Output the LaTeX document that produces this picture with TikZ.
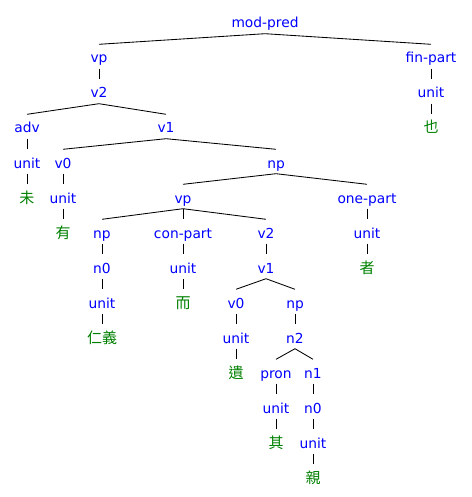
\documentclass[tikz,border=0pt]{standalone}
\usepackage{fontspec}
\setmainfont{DejaVu Sans}
\newfontfamily\cjk{Noto Sans CJK TC}
\definecolor{lbl}{RGB}{0,0,255}
\definecolor{wrd}{RGB}{0,128,0}
\begin{document}
\begin{tikzpicture}[x=1pt,y=-1pt,
  cat/.style={text=lbl, font=\fontsize{13.8}{16}\selectfont, inner sep=0pt,
    text height=18.5pt, text depth=5.5pt, anchor=base},
  word/.style={cat, text=wrd, font=\cjk\fontsize{15}{16}\selectfont},
  edge/.style={draw=black, line width=0.85pt}]
\useasboundingbox (0,0) rectangle (471,497);
\def\L#1{28+35*#1}
\node[cat] (mp) at (265,{\L0}) {mod-pred};
\node[cat] (vpA) at (99,{\L1}) {vp};
\node[cat] (fp) at (431,{\L1}) {fin-part};
\node[cat] (v2A) at (99,{\L2}) {v2};
\node[cat] (unitFP) at (431,{\L2}) {unit};
\node[cat] (adv) at (27,{\L3}) {adv};
\node[cat] (v1A) at (166,{\L3}) {v1};
\node[word] (ye) at (431,{\L3}) {也};
\node[cat] (unitAdv) at (27,{\L4}) {unit};
\node[cat] (v0A) at (63,{\L4}) {v0};
\node[cat] (npA) at (276,{\L4}) {np};
\node[word] (wei) at (27,{\L5}) {未};
\node[cat] (unitV0) at (63,{\L5}) {unit};
\node[cat] (vpB) at (183,{\L5}) {vp};
\node[cat] (op) at (367,{\L5}) {one-part};
\node[word] (you) at (63,{\L6}) {有};
\node[cat] (npB) at (102,{\L6}) {np};
\node[cat] (cp) at (183,{\L6}) {con-part};
\node[cat] (v2B) at (266,{\L6}) {v2};
\node[cat] (unitOP) at (367,{\L6}) {unit};
\node[cat] (n0A) at (102,{\L7}) {n0};
\node[cat] (unitCP) at (183,{\L7}) {unit};
\node[cat] (v1B) at (266,{\L7}) {v1};
\node[word] (zhe) at (367,{\L7}) {者};
\node[cat] (unitN0) at (102,{\L8}) {unit};
\node[word] (er) at (183,{\L8}) {而};
\node[cat] (v0B) at (236,{\L8}) {v0};
\node[cat] (npC) at (295,{\L8}) {np};
\node[word] (renyi) at (102,{\L9}) {仁義};
\node[cat] (unitV0B) at (236,{\L9}) {unit};
\node[cat] (n2) at (295,{\L9}) {n2};
\node[word] (yi) at (236,{\L10}) {遺};
\node[cat] (pron) at (276,{\L10}) {pron};
\node[cat] (n1) at (313,{\L10}) {n1};
\node[cat] (unitPron) at (276,{\L11}) {unit};
\node[cat] (n0B) at (313,{\L11}) {n0};
\node[word] (qi) at (276,{\L12}) {其};
\node[cat] (unitN0B) at (313,{\L12}) {unit};
\node[word] (qin) at (313,{\L13}) {親};
\foreach \a/\b in {mp/vpA, mp/fp, vpA/v2A, fp/unitFP, unitFP/ye,
  v2A/adv, v2A/v1A, adv/unitAdv, unitAdv/wei, v1A/v0A, v1A/npA,
  v0A/unitV0, unitV0/you, npA/vpB, npA/op, vpB/npB, vpB/cp, vpB/v2B,
  op/unitOP, unitOP/zhe, npB/n0A, n0A/unitN0, unitN0/renyi,
  cp/unitCP, unitCP/er, v2B/v1B, v1B/v0B, v1B/npC, v0B/unitV0B,
  unitV0B/yi, npC/n2, n2/pron, n2/n1, pron/unitPron, unitPron/qi,
  n1/n0B, n0B/unitN0B, unitN0B/qin}
  \draw[edge] (\a.south) -- (\b.north);
\end{tikzpicture}
\end{document}
